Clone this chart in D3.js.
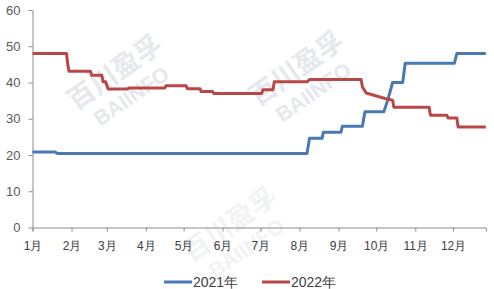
<!DOCTYPE html>
<html>
<head>
<meta charset="utf-8">
<script src="https://cdn.jsdelivr.net/npm/d3@7"></script>
<style>
  body { margin: 0; background: #fff; }
  svg { display: block; font-family: "Liberation Sans", Arial, sans-serif; }
</style>
</head>
<body>
<svg></svg>
<script>
// series names and colours
const seriesNames = ['2021年', '2022年']
const seriesColors = ['#4a78b0', '#b84845']

// 2021 price steps, [month-day, value]
const data2021 = [
    ['01-01', 20.8], ['01-19', 20.8], ['01-21', 20.4], ['08-07', 20.4],
    ['08-09', 24.6], ['08-19', 24.6], ['08-20', 26.3], ['09-03', 26.3],
    ['09-04', 27.9], ['09-20', 27.9], ['09-22', 31.9], ['10-07', 31.9],
    ['10-10', 35.0], ['10-14', 40.0], ['10-22', 40.0], ['10-24', 45.3],
    ['12-02', 45.3], ['12-04', 48.0], ['12-27', 48.0]
]

// 2022 price steps, [month-day, value]
const data2022 = [
    ['01-01', 48.0], ['01-28', 48.0], ['01-29', 45.0], ['01-30', 43.1],
    ['02-16', 43.1], ['02-17', 42.0], ['02-25', 42.0], ['02-26', 40.2],
    ['02-28', 40.2], ['03-02', 38.2], ['03-17', 38.2], ['03-19', 38.5],
    ['04-16', 38.5], ['04-17', 39.1], ['05-03', 39.1], ['05-04', 38.3],
    ['05-14', 38.3], ['05-15', 37.5], ['05-24', 37.5], ['05-25', 37.0],
    ['07-02', 37.0], ['07-03', 38.0], ['07-11', 38.0], ['07-12', 40.2],
    ['08-07', 40.2], ['08-09', 40.8], ['09-19', 40.8], ['09-20', 38.8],
    ['09-23', 37.1], ['10-08', 35.6], ['10-14', 35.1], ['10-15', 33.2],
    ['11-12', 33.2], ['11-13', 31.0], ['11-26', 31.0], ['11-27', 30.2],
    ['12-04', 30.2], ['12-05', 27.7], ['12-27', 27.7]
]

const yTicks = [0, 10, 20, 30, 40, 50, 60]
const monthLabels = ['1月', '2月', '3月', '4月', '5月', '6月', '7月', '8月', '9月', '10月', '11月', '12月']

let width = 494
let height = 289
let plotLeft = 32.5
let plotRight = 485.8
let plotTop = 10
let plotBottom = 227.5

let svg = d3.select('svg')
    .attr('width', width)
    .attr('height', height)

let parse = d3.timeParse('%Y-%m-%d')
let toDate = (md) => parse('2021-' + md)

let xScale = d3.scaleTime()
    .domain([toDate('01-01'), toDate('12-27')])
    .range([plotLeft, plotRight])

let yScale = d3.scaleLinear()
    .domain([0, 60])
    .range([plotBottom, plotTop])

// watermarks
let marks = [[120, 80], [302, 76], [235, 232]]
marks.forEach((m, i) => {
    let g = svg.append('g')
        .attr('transform', 'translate(' + m[0] + ',' + m[1] + ') rotate(-35)')
        .attr('fill', '#dfe3e8')
        .attr('opacity', i == 2 ? 0.45 : 0.8)
    g.append('text')
        .attr('text-anchor', 'middle')
        .attr('font-size', 27)
        .attr('font-family', 'Noto Sans CJK SC')
        .attr('font-weight', 'bold')
        .text('百川盈孚')
    g.append('text')
        .attr('text-anchor', 'middle')
        .attr('y', 27)
        .attr('font-size', 21)
        .attr('font-weight', 'bold')
        .text('BAIINFO')
})

// axes
let xAxis = d3.axisBottom(xScale)
    .ticks(d3.timeMonth.every(1))
    .tickSize(4)
    .tickPadding(10)
    .tickFormat((d) => monthLabels[d.getMonth()])

let gx = svg.append('g')
    .attr('transform', 'translate(0,' + plotBottom + ')')
    .call(xAxis)
gx.select('.domain').attr('stroke', '#8c8c8c')
gx.selectAll('.tick line').attr('stroke', '#8c8c8c')
gx.selectAll('.tick text')
    .attr('fill', '#404040')
    .attr('font-size', 12)

let yAxis = d3.axisLeft(yScale)
    .tickValues(yTicks)
    .tickSize(4)
    .tickPadding(8)
    .tickSizeOuter(0)

let gy = svg.append('g')
    .attr('transform', 'translate(' + plotLeft + ',0)')
    .call(yAxis)
gy.select('.domain').attr('stroke', '#8c8c8c')
gy.selectAll('.tick line').attr('stroke', '#8c8c8c')
gy.selectAll('.tick text')
    .attr('fill', '#595959')
    .attr('font-size', 13)

// lines
let line = d3.line()
    .x((d) => xScale(toDate(d[0])))
    .y((d) => yScale(d[1]))

;[data2021, data2022].forEach((series, i) => {
    svg.append('path')
        .datum(series)
        .attr('fill', 'none')
        .attr('stroke', seriesColors[i])
        .attr('stroke-width', 3)
        .attr('stroke-linejoin', 'round')
        .attr('d', line)
})

// legend
let legendX = [164, 262]
seriesNames.forEach((name, i) => {
    let g = svg.append('g').attr('transform', 'translate(' + legendX[i] + ',282)')
    g.append('line')
        .attr('x1', 0).attr('x2', 28)
        .attr('stroke', seriesColors[i])
        .attr('stroke-width', 3)
    g.append('text')
        .attr('x', 29)
        .attr('dy', '0.36em')
        .attr('font-size', 14)
        .attr('fill', '#404040')
        .text(name)
})
</script>
</body>
</html>
